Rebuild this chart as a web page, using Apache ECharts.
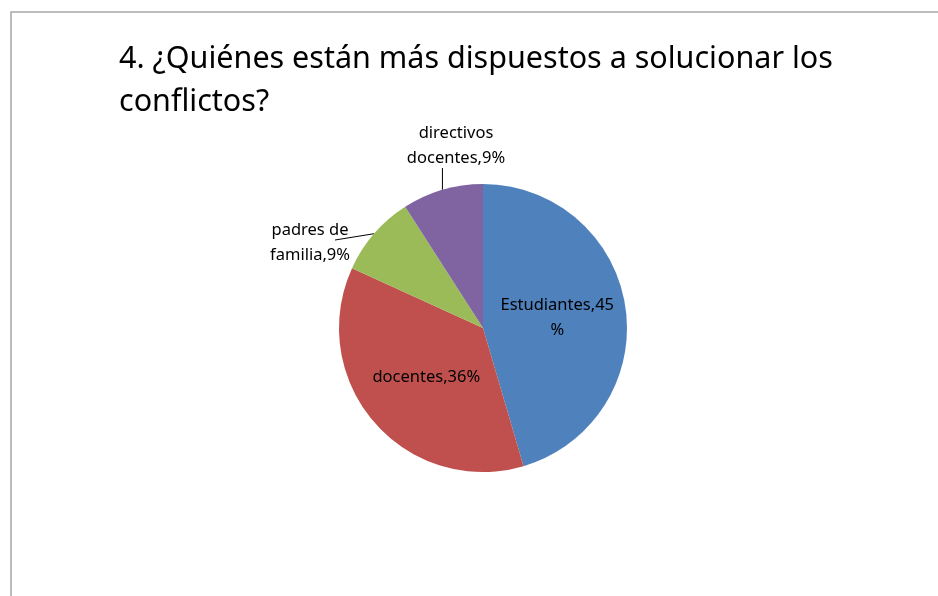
<!DOCTYPE html>
<html><head><meta charset="utf-8">
<script src="https://cdn.jsdelivr.net/npm/echarts@6/dist/echarts.min.js"></script>
<style>html,body{margin:0;padding:0;background:#fff}#c{width:938px;height:596px}</style>
</head><body><div id="c"></div>
<script>
const titleText = '4. ¿Quiénes están más dispuestos a solucionar los\nconflictos?';
const categories = ['Estudiantes', 'docentes', 'padres de\nfamilia', 'directivos\ndocentes'];
const values = [45, 36, 9, 9];
const colors = ['#4F81BD', '#C0504D', '#9BBB59', '#8064A2'];
const inside = [true, true, false, false];

const chart = echarts.init(document.getElementById('c'), null, {renderer: 'canvas'});
const data = categories.map((name, i) => ({
  name, value: values[i],
  itemStyle: {color: colors[i]},
  label: inside[i] ? {position: 'inside'} : {position: 'outside'},
  labelLine: {show: !inside[i]}
}));
const outsideLabelPos = {2: [310, 243], 3: [456, 146]};
chart.setOption({
  animation: false,
  graphic: [{type: 'rect', shape: {x: 11, y: 12, width: 1000, height: 1000}, style: {fill: 'none', stroke: '#a6a6a6', lineWidth: 1.5}, silent: true}],
  title: {text: titleText, left: 114, top: 33, textStyle: {fontFamily: 'Noto Sans', fontSize: 30.5, fontWeight: 'normal', color: '#000', lineHeight: 43}},
  series: [{
    type: 'pie', center: [483, 328], radius: 144, startAngle: 90, clockwise: true,
    data,
    label: {
      fontFamily: 'Noto Sans', fontSize: 16.5, color: '#000', lineHeight: 25,
      formatter: p => p.dataIndex === 0 ? p.name + ',' + p.value + '\n%' : p.name + ',' + p.value + '%'
    },
    labelLine: {length: 12, length2: 0, lineStyle: {color: '#000', width: 1}},
    labelLayout: p => {
      const pos = outsideLabelPos[p.dataIndex];
      if (!pos) return {};
      const out = {x: pos[0], y: pos[1], align: 'center', verticalAlign: 'middle'};
      const pts = p.labelLinePoints;
      if (pts && pts.length) {
        const s = pts[0];
        if (p.dataIndex === 3) {
          const e = [s[0], pos[1] + 22];
          out.labelLinePoints = [s, e, e];
        } else {
          const e = [pos[0] + 25, pos[1] - 3];
          out.labelLinePoints = [s, e, e];
        }
      }
      return out;
    },
    emphasis: {disabled: true}
  }]
});
</script></body></html>
